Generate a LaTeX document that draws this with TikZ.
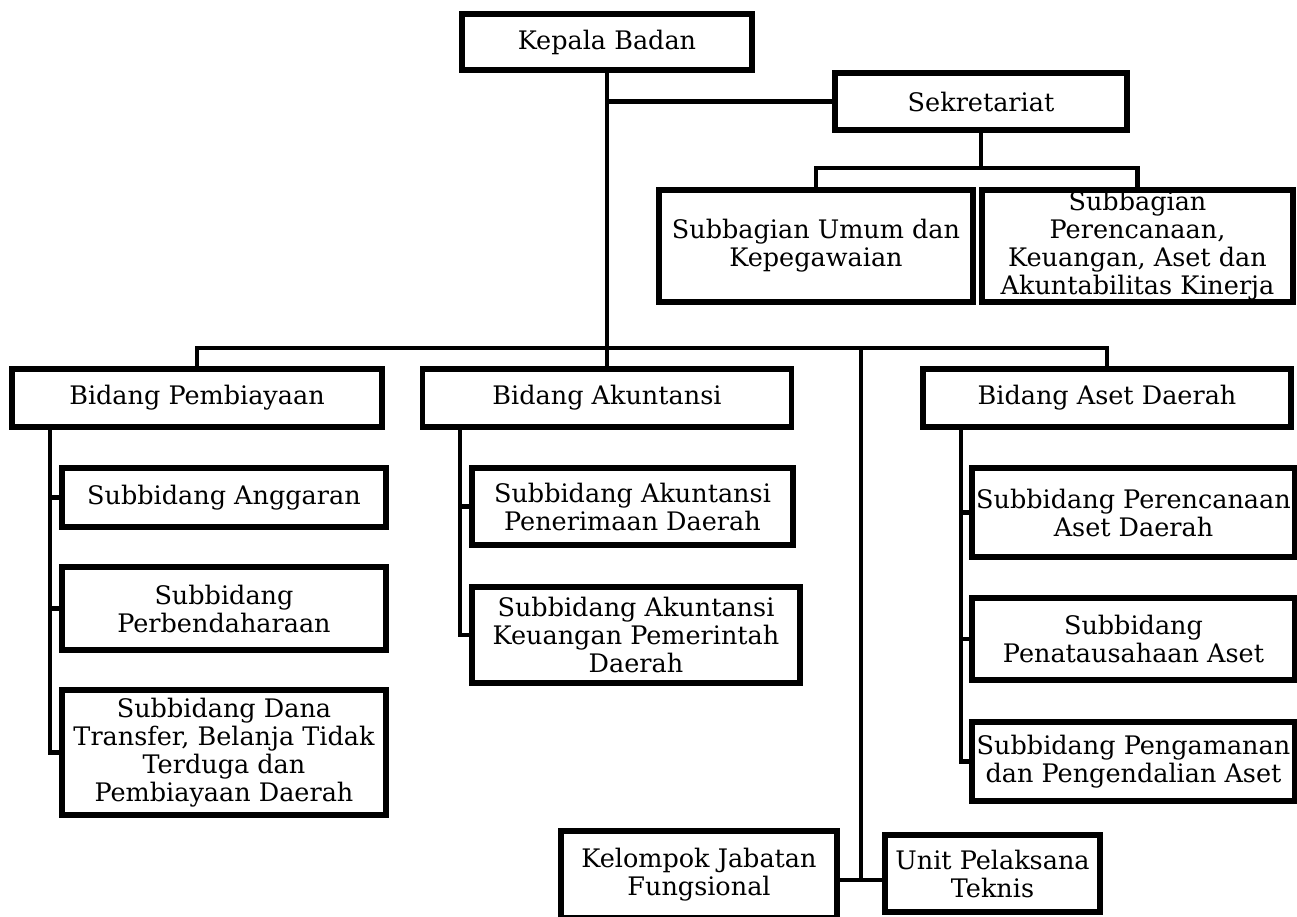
\documentclass[tikz,border=0pt]{standalone}
\usepackage{fontspec}
\setmainfont{DejaVu Serif}
\usetikzlibrary{positioning,calc}

\begin{document}
\begin{tikzpicture}[x=1pt,y=-1pt,
  box/.style={draw=black,line width=5.5pt,fill=white,align=center,inner sep=0pt,
    font=\fontsize{25.5}{28}\selectfont},
  link/.style={draw=black,line width=4.5pt,line cap=rect}]
\useasboundingbox (0,0) rectangle (1297,917);
% top level
\node[box,minimum width=290pt,minimum height=56pt] (kepala) at (607,42) {Kepala Badan};
\node[box,minimum width=292pt,minimum height=57pt] (sekre) at (981,101.5) {Sekretariat};
\node[box,minimum width=314pt,minimum height=112pt] (umum) at (816,246) {Subbagian Umum dan\\Kepegawaian};
\node[box,minimum width=311pt,minimum height=112pt] (renc) at (1137.5,246) {Subbagian\\Perencanaan,\\Keuangan, Aset dan\\Akuntabilitas Kinerja};
% bidang
\node[box,minimum width=370pt,minimum height=58pt] (bidP) at (197,398) {Bidang Pembiayaan};
\node[box,minimum width=369pt,minimum height=58pt] (bidA) at (607,398) {Bidang Akuntansi};
\node[box,minimum width=368pt,minimum height=58pt] (bidS) at (1107,398) {Bidang Aset Daerah};
% subbidang pembiayaan
\node[box,minimum width=324pt,minimum height=59pt] (anggaran) at (224,497.5) {Subbidang Anggaran};
\node[box,minimum width=324pt,minimum height=83pt] (bendahara) at (224,608.5) {Subbidang\\Perbendaharaan};
\node[box,minimum width=324pt,minimum height=125pt] (dana) at (224,752.5) {Subbidang Dana\\Transfer, Belanja Tidak\\Terduga dan\\Pembiayaan Daerah};
% subbidang akuntansi
\node[box,minimum width=321pt,minimum height=77pt] (terima) at (632.5,506.5) {Subbidang Akuntansi\\Penerimaan Daerah};
\node[box,minimum width=328pt,minimum height=96pt] (pemda) at (636,635) {Subbidang Akuntansi\\Keuangan Pemerintah\\Daerah};
% subbidang aset
\node[box,minimum width=323pt,minimum height=89pt] (asetrenc) at (1133.5,512.5) {Subbidang Perencanaan\\Aset Daerah};
\node[box,minimum width=323pt,minimum height=82pt] (asettu) at (1133.5,639) {Subbidang\\Penatausahaan Aset};
\node[box,minimum width=323pt,minimum height=79pt] (asetaman) at (1133.5,761.5) {Subbidang Pengamanan\\dan Pengendalian Aset};
% bawah
\node[box,minimum width=276pt,minimum height=87pt] (kjf) at (699,874.5) {Kelompok Jabatan\\Fungsional};
\node[box,minimum width=215pt,minimum height=77pt] (upt) at (992.5,873.5) {Unit Pelaksana\\Teknis};

% garis
\coordinate (bus) at (0,348);
\coordinate (sekbar) at (0,168);
\coordinate (fung) at (861,880);
\coordinate (spP) at (50,0);
\coordinate (spA) at (460,0);
\coordinate (spS) at (961,0);
\draw[link] (kepala.south) -- (kepala.south |- bus);
\draw[link] (kepala.south |- sekre.west) -- (sekre.west);
\draw[link] (sekre.south) -- (sekre.south |- sekbar);
\draw[link] (umum.north) -- (umum.north |- sekbar) -- (renc.north |- sekbar) -- (renc.north);
\draw[link] (bidP.north) -- (bidP.north |- bus) -- (bidS.north |- bus) -- (bidS.north);
\draw[link] (bidA.north |- bus) -- (bidA.north);
\draw[link] (fung |- bus) -- (fung);
\draw[link] (kjf.east |- fung) -- (upt.west |- fung);
\draw[link] (spP |- bidP.south) -- (spP |- dana.west);
\draw[link] (spA |- bidA.south) -- (spA |- pemda.west);
\draw[link] (spS |- bidS.south) -- (spS |- asetaman.west);
\foreach \s in {anggaran,bendahara,dana}
  \draw[link] (spP |- \s.west) -- (\s.west);
\foreach \s in {terima,pemda}
  \draw[link] (spA |- \s.west) -- (\s.west);
\foreach \s in {asetrenc,asettu,asetaman}
  \draw[link] (spS |- \s.west) -- (\s.west);
\end{tikzpicture}
\end{document}
